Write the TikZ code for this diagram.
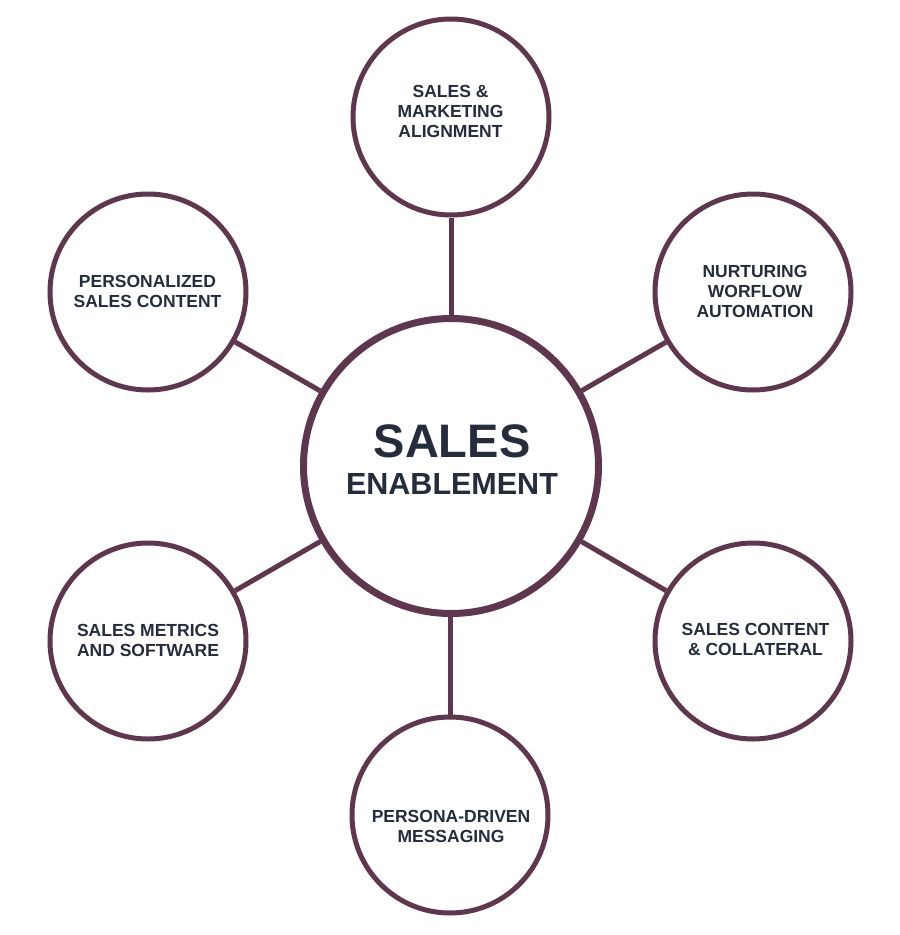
\documentclass[tikz,border=0pt]{standalone}
\usepackage{fontspec}
\setmainfont{Liberation Sans}
\definecolor{plum}{RGB}{94,55,78}
\definecolor{ink}{RGB}{37,45,60}
\begin{document}
\begin{tikzpicture}[x=1pt,y=-1pt,
  hub/.style={circle,draw=plum,line width=7pt,minimum size=295pt,inner sep=0pt,fill=white},
  spoke/.style={circle,draw=plum,line width=5pt,minimum size=196pt,inner sep=0pt,fill=white},
  lbl/.style={inner sep=0pt,align=center,text=ink,font=\bfseries\fontsize{17.5}{20}\selectfont},
  link/.style={draw=plum,line width=5pt}]
\useasboundingbox[fill=white] (0,0) rectangle (900,935);
\node[hub] (c) at (451,466) {};
\node[spoke] (t) at (451,117) {};
\node[spoke] (tr) at (753,292) {};
\node[spoke] (br) at (753,641) {};
\node[spoke] (b) at (450,815) {};
\node[spoke] (bl) at (148,641) {};
\node[spoke] (tl) at (148,292) {};
\draw[link] (c) -- (t);
\draw[link] (c) -- (tr);
\draw[link] (c) -- (br);
\draw[link] (c.south -| b.north) -- (b);
\draw[link] (c) -- (bl);
\draw[link] (c) -- (tl);
\node[inner sep=0pt,align=center,text=ink,font=\bfseries\fontsize{30.5}{37}\selectfont] (ct) at (452,460)
  {{\fontsize{47}{37}\selectfont SALES}\\ENABLEMENT};
\node[lbl] (tt) at (450.5,111) {SALES \&\\MARKETING\\ALIGNMENT};
\node[lbl] (trt) at (755,291) {NURTURING\\WORFLOW\\AUTOMATION};
\node[lbl] (brt) at (755.5,639.5) {SALES CONTENT\\\& COLLATERAL};
\node[lbl] (bt) at (451,826.5) {PERSONA-DRIVEN\\MESSAGING};
\node[lbl] (blt) at (148,640) {SALES METRICS\\AND SOFTWARE};
\node[lbl] (tlt) at (147.5,291) {PERSONALIZED\\SALES CONTENT};
\end{tikzpicture}
\end{document}
